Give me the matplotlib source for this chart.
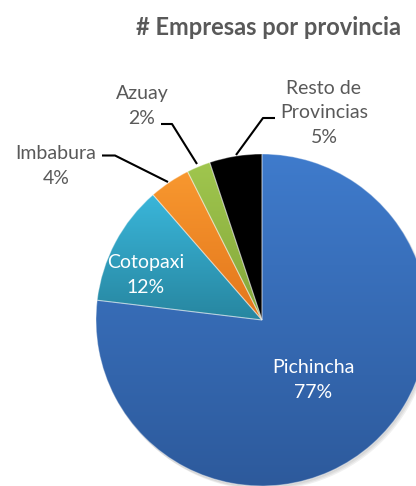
import matplotlib
matplotlib.use("Agg")
import matplotlib.pyplot as plt
import numpy as np
from matplotlib.colors import LinearSegmentedColormap
from matplotlib.patches import Circle

# Data
provinces = ["Pichincha", "Cotopaxi", "Imbabura", "Azuay", "Resto de\nProvincias"]
shares = [76.9, 11.7, 4.0, 2.3, 5.1]
pct_labels = ["77%", "12%", "4%", "2%", "5%"]
title = "# Empresas por provincia"

top_colors = ["#3f7bcc", "#3ab6da", "#f8982f", "#a0c64e", "#000000"]
bot_colors = ["#2d5a9c", "#2786a0", "#e3761c", "#83a63a", "#000000"]

W, H = 416, 486
fig = plt.figure(figsize=(W / 100, H / 100), dpi=100)
ax = fig.add_axes([0, 0, 1, 1])

cx, cy, R = 262, H - 320, 166

# soft shadow
for i, a in enumerate([0.05, 0.05, 0.06]):
    ax.add_patch(Circle((cx + 1 + i, cy - 2 - i), R, color="#000000", alpha=a, lw=0, zorder=0))

wedges, _ = ax.pie(shares, startangle=90, counterclock=False, center=(cx, cy), radius=R,
                   colors=top_colors, wedgeprops=dict(linewidth=0.8, edgecolor=(1, 1, 1, 0.35)),
                   frame=True)

for w, c1, c2 in zip(wedges, top_colors, bot_colors):
    bb = w.get_path().get_extents()
    cmap = LinearSegmentedColormap.from_list("g", [c2, c1])
    grad = np.linspace(0, 1, 256).reshape(-1, 1)
    im = ax.imshow(grad, cmap=cmap, origin="lower", aspect="auto",
                   extent=(bb.x0, bb.x1, bb.y0, bb.y1), zorder=2, interpolation="bilinear")
    im.set_clip_path(w)
    w.set_facecolor("none")
    w.set_zorder(3)

ax.set_xlim(0, W)
ax.set_ylim(0, H)
ax.set_aspect("equal")
ax.axis("off")

font = "Lato"
gray = "#595959"
fs = 14
ls = 1.55

# Title
ax.text(401, H - 28, title, ha="right", va="center", fontsize=17, fontweight="bold",
        color=gray, family=font)

# Inside labels
ax.text(146, H - 275, provinces[1] + "\n" + pct_labels[1], ha="center", va="center",
        fontsize=fs, color="white", family=font, linespacing=ls, zorder=5)
ax.text(313, H - 380, provinces[0] + "\n" + pct_labels[0], ha="center", va="center",
        fontsize=fs, color="white", family=font, linespacing=ls, zorder=5)

# Outside labels
ax.text(56, H - 166, provinces[2] + "\n" + pct_labels[2], ha="center", va="center",
        fontsize=fs, color=gray, family=font, linespacing=ls, zorder=5)
ax.text(142, H - 106, provinces[3] + "\n" + pct_labels[3], ha="center", va="center",
        fontsize=fs, color=gray, family=font, linespacing=ls, zorder=5)
ax.text(324, H - 113, provinces[4] + "\n" + pct_labels[4], ha="center", va="center",
        fontsize=fs, color=gray, family=font, linespacing=ls, zorder=5)

# Leader lines
lk = dict(color="black", lw=1.5, zorder=4, solid_capstyle="butt")
ax.plot([102, 115, 168], [H - 155.5, H - 155.5, H - 182], **lk)
ax.plot([161, 172, 197], [H - 124, H - 124, H - 164], **lk)
ax.plot([275, 263, 236], [H - 118, H - 118, H - 155], **lk)

fig.savefig("out.png", dpi=100)
